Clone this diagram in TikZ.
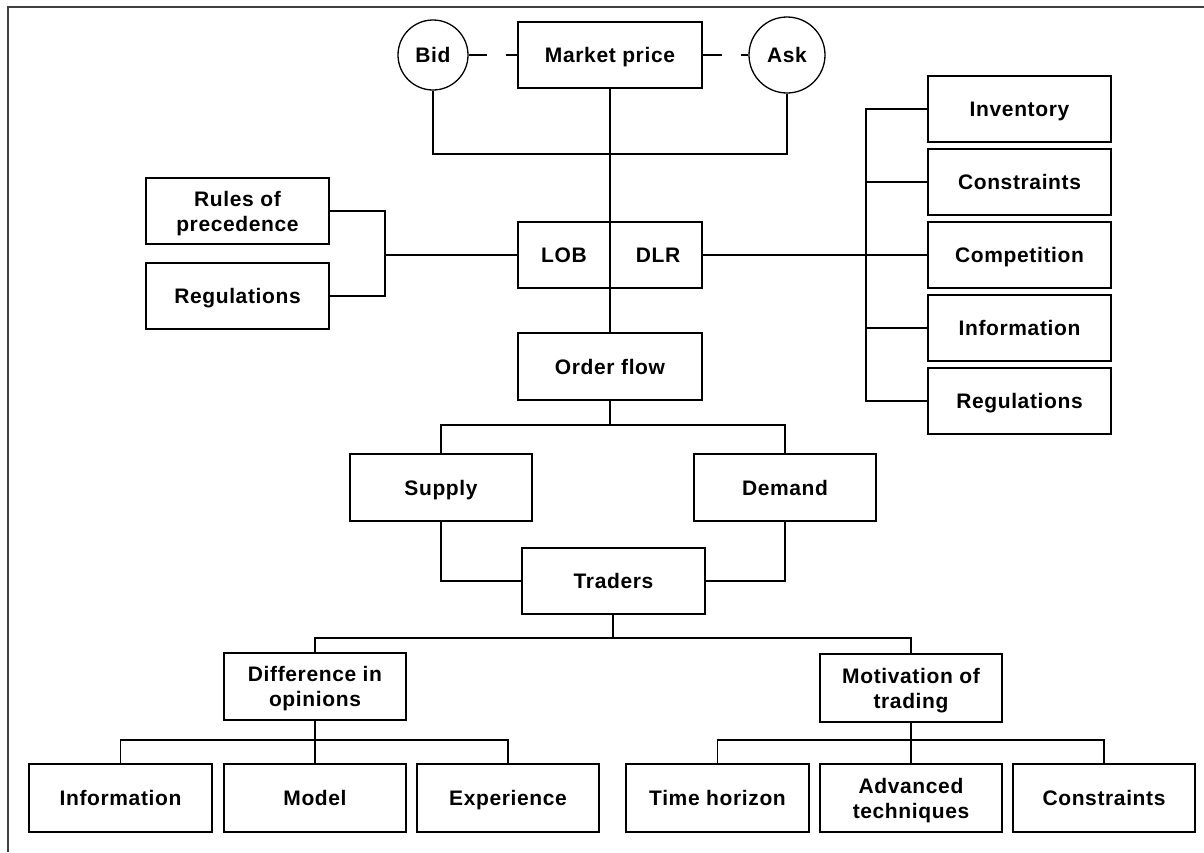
\documentclass[tikz,border=0pt]{standalone}
\usepackage{fontspec}
\newfontfamily\lab[LetterSpace=3]{Liberation Sans}
\begin{document}
\begin{tikzpicture}[x=1pt,y=-1pt,
  every path/.style={line width=1.3pt},
  lbl/.style={font=\lab\bfseries\fontsize{21}{25}\selectfont, align=center, inner sep=0pt, text height=15pt, text depth=0pt},
  two/.style={text height=40pt, text depth=0pt},
  box/.style={lbl, draw, line width=1.3pt, minimum width=183pt, minimum height=66pt},
  circ/.style={lbl, draw, line width=1.3pt, circle},
  conn/.style={line width=1.3pt}]
\useasboundingbox (0,0) rectangle (1204,852);
% frame (top and left edges)
\draw[line width=1.4pt, black!75] (8,852) -- (8,7) -- (1204,7);

% top
\node[box, minimum width=184pt] (mp) at (610,55) {Market price};
\node[circ, minimum size=70pt] (bid) at (433,55) {Bid};
\node[circ, minimum size=76pt] (ask) at (787,55) {Ask};
\node[box, minimum width=184pt] (lob) at (610,255) {};
\node[lbl] (lobt) at (564,255) {LOB};
\node[lbl] (dlrt) at (658,255) {DLR};
\node[box, minimum width=184pt, minimum height=67pt] (of) at (610,366.5) {Order flow};

% left
\node[box, two] (rules) at (237.5,211) {Rules of\\precedence};
\node[box] (regl) at (237.5,296) {Regulations};

% right column
\node[box] (inv) at (1019.5,109) {Inventory};
\node[box] (con) at (1019.5,182) {Constraints};
\node[box] (comp) at (1019.5,255) {Competition};
\node[box] (infr) at (1019.5,328) {Information};
\node[box] (regr) at (1019.5,401) {Regulations};

% middle
\node[box, minimum width=182pt, minimum height=67pt] (supply) at (441,487.5) {Supply};
\node[box, minimum width=182pt, minimum height=67pt] (demand) at (785,487.5) {Demand};
\node[box] (traders) at (613.5,581) {Traders};

\node[box, two, minimum width=182pt, minimum height=67pt] (diff) at (315,686.5) {Difference in\\opinions};
\node[box, two, minimum width=182pt, minimum height=68pt] (mot) at (911,688) {Motivation of\\trading};

% bottom
\node[box, minimum height=68pt] (binf) at (120.5,798) {Information};
\node[box, minimum width=182pt, minimum height=68pt] (model) at (315,798) {Model};
\node[box, minimum width=182pt, minimum height=68pt] (exper) at (508,798) {Experience};
\node[box, minimum height=68pt] (time) at (717.5,798) {Time horizon};
\node[box, two, minimum width=182pt, minimum height=68pt] (adv) at (911,798) {Advanced\\techniques};
\node[box, minimum width=182pt, minimum height=68pt] (bcon) at (1104,798) {Constraints};

% junction coordinates
\coordinate (pj) at (610,154);
\coordinate (lj) at (385,255);
\coordinate (rb) at (866,255);
\coordinate (oj) at (610,425);
\coordinate (tj) at (613,638);
\coordinate (dj) at (315,740);
\coordinate (mj) at (911,740);

% connectors
\draw[conn, dash pattern=on 18pt off 19pt on 40pt] (bid.east) -- (mp.west);
\draw[conn, dash pattern=on 19pt off 19pt on 40pt] (mp.east) -- (ask.west);
\draw[conn] (bid.south) |- (pj) -| (ask.south);
\draw[conn] (mp.south) -- (of.north);

\draw[conn] (rules.east) -| (lj) |- (regl.east);
\draw[conn] (lj) -- (lob.west);

\draw[conn] (lob.east) -- (rb);
\draw[conn] (inv.west) -| (rb) |- (regr.west);
\draw[conn] (con.west) -- (con.west -| rb);
\draw[conn] (comp.west) -- (rb);
\draw[conn] (infr.west) -- (infr.west -| rb);

\draw[conn] (of.south) -- (oj);
\draw[conn] (supply.north) |- (oj) -| (demand.north);
\draw[conn] (supply.south) |- (traders.west);
\draw[conn] (demand.south) |- (traders.east);

\draw[conn] (traders.south -| tj) -- (tj);
\draw[conn] (diff.north) |- (tj) -| (mot.north);

\draw[conn] (diff.south) -- (dj);
\draw[conn] (binf.north) |- (dj) -| (exper.north);
\draw[conn] (dj) -- (model.north);

\draw[conn] (mot.south) -- (mj);
\draw[conn] (time.north) |- (mj) -| (bcon.north);
\draw[conn] (mj) -- (adv.north);
\end{tikzpicture}
\end{document}
